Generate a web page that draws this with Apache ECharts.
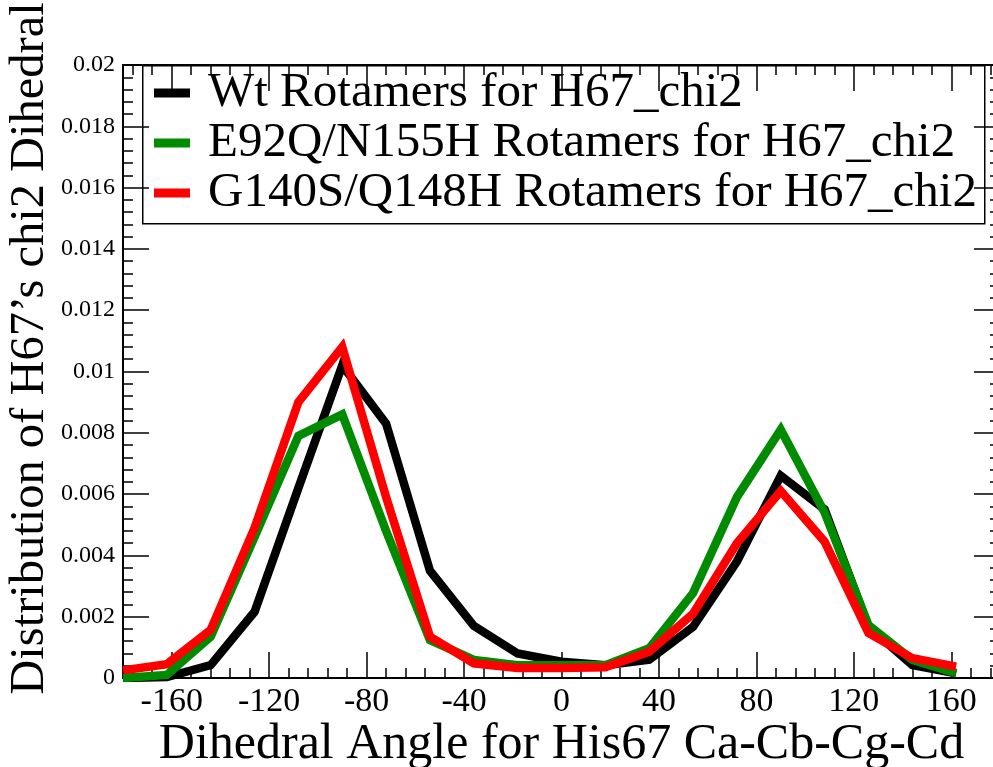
<!DOCTYPE html>
<html>
<head>
<meta charset="utf-8">
<script src="https://cdn.jsdelivr.net/npm/echarts@6/dist/echarts.min.js"></script>
<style>
html,body{margin:0;padding:0;background:#fff;}
#chart{width:993px;height:767px;}
</style>
</head>
<body>
<div id="chart"></div>
<script>
// ---- data ----
var angles = [-180,-162,-144,-126,-108,-90,-72,-54,-36,-18,0,18,36,54,72,90,108,126,144,162];
var wtValues = [0,0.00003,0.00042,0.00216,0.0062,0.0102,0.0083,0.0035,0.0017,0.0008,0.00053,0.00042,0.0006,0.00167,0.0038,0.0066,0.0055,0.00167,0.00042,0.00015];
var e92qValues = [0,0.0001,0.00135,0.0046,0.0079,0.0086,0.0048,0.00124,0.00059,0.00042,0.00042,0.00042,0.00097,0.00277,0.0059,0.0081,0.0054,0.00173,0.00059,0.00016];
var g140sValues = [0.00025,0.00045,0.00157,0.0049,0.009,0.0108,0.0059,0.00135,0.00048,0.00033,0.00033,0.00035,0.00086,0.0021,0.0044,0.0061,0.00445,0.00147,0.00065,0.00037];
var seriesNames = ['Wt Rotamers for H67_chi2','E92Q/N155H Rotamers for H67_chi2','G140S/Q148H Rotamers for H67_chi2'];
var xTickLabels = [-160,-120,-80,-40,0,40,80,120,160];
var xMinorStep = 8;
var xTitle = 'Dihedral Angle for His67 Ca-Cb-Cg-Cd';
var yTitle = 'Distribution of H67\u2019s chi2 Dihedral';

// ---- build ----
var FONT = '"Liberation Serif","Times New Roman",serif';
var xMinorTicks = [];
for (var v = -176; v <= 176; v += xMinorStep) {
  if (xTickLabels.indexOf(v) < 0) xMinorTicks.push(v);
}
function pairs(vals){ return angles.map(function(a,i){ return [a, vals[i]]; }); }

var axisLineStyle = {color:'#000', width:2};
function xAx(pos, ticks, len, showLine, showLabel){
  return {
    type:'value', min:-180, max:180, position:pos, gridIndex:0,
    axisLine:{show:showLine, onZero:false, lineStyle:axisLineStyle},
    axisTick:{show:true, inside:true, length:len, customValues:ticks, lineStyle:{color:'#000', width:1.5}},
    axisLabel:{show:showLabel, customValues:ticks, fontFamily:FONT, fontSize:34, color:'#000', margin:7},
    splitLine:{show:false}
  };
}
function yAx(pos, showLabel){
  return {
    type:'value', min:0, max:0.02, interval:0.002, position:pos,
    axisLine:{show:true, onZero:false, lineStyle:axisLineStyle},
    axisTick:{show:true, inside:true, length:26, lineStyle:{color:'#000', width:1.5}},
    minorTick:{show:true, splitNumber:5, length:10, lineStyle:{color:'#000', width:1.5}},
    axisLabel:{show:showLabel, fontFamily:FONT, fontSize:24, color:'#000', margin:8,
      formatter:function(v){ return v === 0 ? '0' : String(+v.toFixed(3)); }},
    splitLine:{show:false}, minorSplitLine:{show:false}
  };
}

var xAxes = [xAx('bottom', xTickLabels, 26, true, true), xAx('bottom', xMinorTicks, 10, false, false),
             xAx('top', xTickLabels, 26, true, false), xAx('top', xMinorTicks, 10, false, false)];
xAxes[0].name = xTitle;
xAxes[0].nameLocation = 'middle';
xAxes[0].nameGap = 42;
xAxes[0].nameMoveOverlap = false;
xAxes[0].nameTextStyle = {fontFamily:FONT, fontSize:50, color:'#000'};

var yAxes = [yAx('left', true), yAx('right', false)];
yAxes[0].name = yTitle;
yAxes[0].nameLocation = 'middle';
yAxes[0].nameGap = 68;
yAxes[0].nameMoveOverlap = false;
yAxes[0].nameTextStyle = {fontFamily:FONT, fontSize:48.5, color:'#000', padding:[0,0,0,46]};

var colors = ['#000000','#008b00','#ff0000'];
var valueSets = [wtValues, e92qValues, g140sValues];
var series = valueSets.map(function(vals, i){
  return {
    name: seriesNames[i], type:'line', xAxisIndex:0, yAxisIndex:0,
    data: pairs(vals), showSymbol:false, symbol:'none',
    lineStyle:{color:colors[i], width:8.5, join:'miter'},
    itemStyle:{color:colors[i]}, z: 2 + i, animation:false
  };
});

var chart = echarts.init(document.getElementById('chart'), null, {renderer:'canvas'});
chart.setOption({
  animation:false,
  backgroundColor:'#fff',
  grid:{left:123, top:65, right:-7, bottom:89, containLabel:false, outerBoundsMode:'none'},
  xAxis: xAxes,
  yAxis: yAxes,
  legend:{
    show:true, orient:'vertical', left:154, top:68, padding:0, itemGap:0,
    itemWidth:36, itemHeight:9, icon:'rect',
    textStyle:{fontFamily:FONT, fontSize:49, color:'#000', lineHeight:50, padding:[0,0,0,13]},
    data: seriesNames
  },
  graphic:[{
    type:'rect', left:142, top:65, z:0,
    shape:{x:0, y:0, width:842, height:158},
    style:{fill:'#fff', stroke:'#000', lineWidth:1.5}
  }],
  series: series
});
</script>
</body>
</html>
